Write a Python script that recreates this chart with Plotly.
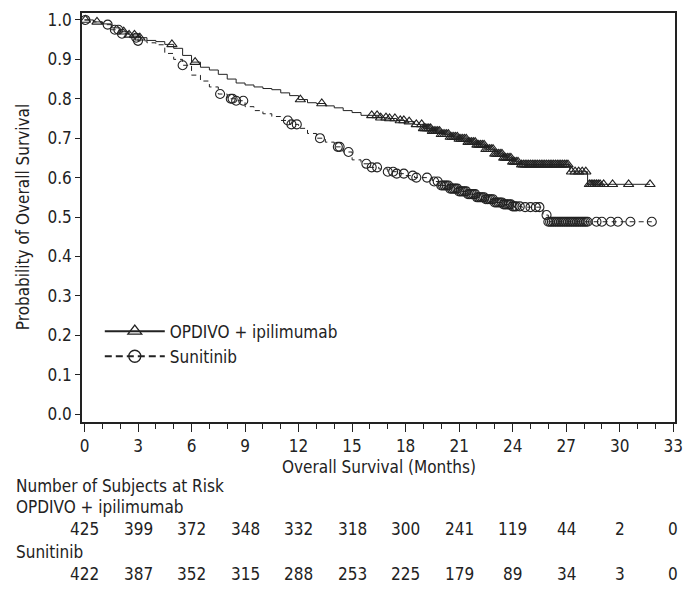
import numpy as np
import plotly.graph_objects as go

# ---------------- data ----------------
opdivo_t = [0, 0.5, 1.0, 1.5, 2.0, 2.5, 3.0, 3.5, 4.0, 4.5, 5.0, 5.5, 6.0, 6.5, 7.0, 7.5,
            8.0, 8.5, 9.0, 9.5, 10.0, 10.5, 11.0, 11.5, 12.0, 12.5, 13.0, 13.5, 14.0, 14.5,
            15.0, 15.5, 16.5, 17.0, 17.5, 18.0, 18.5, 19.0, 19.5, 20.0, 20.5, 21.0, 21.5,
            22.0, 22.5, 23.0, 23.5, 24.0, 24.5, 27.2, 28.2, 31.7]
opdivo_s = [1.0, 0.995, 0.99, 0.98, 0.97, 0.962, 0.955, 0.948, 0.945, 0.938, 0.928, 0.91,
            0.893, 0.88, 0.873, 0.862, 0.85, 0.84, 0.835, 0.83, 0.826, 0.823, 0.815, 0.808,
            0.798, 0.79, 0.788, 0.782, 0.777, 0.77, 0.765, 0.758, 0.752, 0.75, 0.745, 0.742,
            0.735, 0.725, 0.718, 0.71, 0.703, 0.698, 0.69, 0.683, 0.672, 0.66, 0.65, 0.64,
            0.633, 0.615, 0.583, 0.583]
opdivo_cens = [0.05, 0.7, 2.2, 2.5, 2.8, 3.1, 4.9, 6.2, 12.1, 13.3, 16.1, 16.4, 16.6, 16.9,
               17.1, 17.4, 17.7, 17.9, 18.2, 18.6, 18.9, 19.0, 19.1, 19.2, 19.3, 19.4, 19.5,
               19.6, 19.7, 19.8, 19.9, 20.0, 20.1, 20.2, 20.3, 20.4, 20.5, 20.6, 20.7, 20.8,
               20.9, 21.0, 21.1, 21.2, 21.3, 21.4, 21.5, 21.6, 21.7, 21.8, 21.9, 22.0, 22.1,
               22.2, 22.3, 22.4, 22.5, 22.6, 22.7, 22.8, 22.9, 23.0, 23.1, 23.2, 23.3, 23.4,
               23.5, 23.6, 23.7, 23.8, 23.9, 24.0, 24.1, 24.2, 24.3, 24.5, 24.6, 24.7, 24.8,
               24.9, 25.0, 25.1, 25.2, 25.3, 25.4, 25.5, 25.6, 25.7, 25.8, 25.9, 26.0, 26.1,
               26.2, 26.3, 26.4, 26.5, 26.6, 26.7, 26.8, 26.9, 27.0, 27.1, 27.3, 27.5, 27.7,
               27.9, 28.1, 28.3, 28.4, 28.5, 28.6, 28.7, 28.8, 28.9, 29.1, 29.6, 30.5, 31.7]

sunit_t = [0, 0.5, 1.0, 1.5, 2.0, 2.5, 3.0, 3.5, 4.0, 4.5, 5.0, 5.5, 6.0, 6.5, 7.0, 7.5,
           8.0, 8.5, 9.0, 9.5, 10.0, 10.5, 11.0, 11.5, 12.0, 12.5, 13.0, 13.5, 14.0, 14.5,
           15.0, 15.5, 16.0, 16.5, 17.0, 17.5, 18.0, 18.5, 19.5, 20.0, 20.5, 21.0, 21.5,
           22.0, 22.5, 23.0, 23.5, 24.0, 24.5, 25.7, 26.0, 31.8]
sunit_s = [1.0, 0.995, 0.988, 0.975, 0.965, 0.955, 0.947, 0.942, 0.937, 0.915, 0.9, 0.885,
           0.86, 0.845, 0.83, 0.812, 0.8, 0.795, 0.78, 0.77, 0.762, 0.755, 0.745, 0.735,
           0.725, 0.712, 0.7, 0.69, 0.678, 0.665, 0.645, 0.635, 0.626, 0.622, 0.615, 0.61,
           0.605, 0.6, 0.59, 0.58, 0.572, 0.565, 0.558, 0.55, 0.545, 0.537, 0.532, 0.527,
           0.525, 0.505, 0.488, 0.488]
sunit_cens = [0.05, 1.3, 1.7, 1.9, 2.1, 2.9, 3.0, 5.5, 7.6, 8.2, 8.3, 8.5, 8.9, 11.4, 11.6,
              11.9, 13.2, 14.2, 14.3, 14.8, 15.8, 16.1, 16.4, 17.0, 17.3, 17.5, 17.9, 18.4,
              18.6, 19.2, 19.6, 19.8, 20.0, 20.1, 20.2, 20.3, 20.4, 20.5, 20.6, 20.7, 20.8,
              20.9, 21.0, 21.1, 21.2, 21.3, 21.4, 21.5, 21.6, 21.7, 21.8, 21.9, 22.0, 22.1,
              22.2, 22.3, 22.4, 22.5, 22.6, 22.7, 22.8, 22.9, 23.0, 23.1, 23.2, 23.3, 23.4,
              23.5, 23.6, 23.7, 23.8, 23.9, 24.0, 24.1, 24.2, 24.4, 24.7, 25.0, 25.3, 25.5,
              25.9, 26.0, 26.1, 26.2, 26.3, 26.4, 26.5, 26.6, 26.7, 26.8, 26.9, 27.0, 27.1,
              27.2, 27.3, 27.4, 27.5, 27.6, 27.7, 27.8, 27.9, 28.0, 28.1, 28.2, 28.7, 29.0,
              29.5, 29.9, 30.6, 31.8]

risk_times = [0, 3, 6, 9, 12, 15, 18, 21, 24, 27, 30, 33]
risk_opdivo = [425, 399, 372, 348, 332, 318, 300, 241, 119, 44, 2, 0]
risk_sunit = [422, 387, 352, 315, 288, 253, 225, 179, 89, 34, 3, 0]

x_ticks = list(range(0, 34, 3))
y_ticks = [round(0.1 * i, 1) for i in range(11)]

# ---------------- figure ----------------
FONT = "Liberation Sans Narrow, DejaVu Sans Condensed, Arial Narrow, sans-serif"
INK = "#222222"


def step_lookup(ts, ss, cens):
    ts = np.asarray(ts)
    ss = np.asarray(ss)
    idx = np.searchsorted(ts, np.asarray(cens), side="right") - 1
    return ss[idx]


fig = go.Figure()

fig.add_trace(go.Scatter(x=opdivo_t, y=opdivo_s, mode="lines", line_shape="hv",
                         line=dict(color=INK, width=1), showlegend=False, hoverinfo="skip"))
fig.add_trace(go.Scatter(x=opdivo_cens, y=step_lookup(opdivo_t, opdivo_s, opdivo_cens),
                         mode="markers", showlegend=False,
                         marker=dict(symbol="triangle-up-open", size=9,
                                     line=dict(color=INK, width=1.1), color=INK)))
fig.add_trace(go.Scatter(x=sunit_t, y=sunit_s, mode="lines", line_shape="hv",
                         line=dict(color=INK, width=1, dash="5px,4px"), showlegend=False,
                         hoverinfo="skip"))
fig.add_trace(go.Scatter(x=sunit_cens, y=step_lookup(sunit_t, sunit_s, sunit_cens),
                         mode="markers", showlegend=False,
                         marker=dict(symbol="circle-open", size=9,
                                     line=dict(color=INK, width=1.1), color=INK)))

# legend entries
fig.add_trace(go.Scatter(x=[None], y=[None], mode="lines+markers", name="OPDIVO + ipilimumab",
                         line=dict(color=INK, width=2),
                         marker=dict(symbol="triangle-up-open", size=12,
                                     line=dict(color=INK, width=1.3), color=INK)))
fig.add_trace(go.Scatter(x=[None], y=[None], mode="lines+markers", name="Sunitinib",
                         line=dict(color=INK, width=2, dash="7px,4px"),
                         marker=dict(symbol="circle-open", size=12,
                                     line=dict(color=INK, width=1.3), color=INK)))

annotations = []
PLOT_TOP, PLOT_BOT = 10, 422
H = PLOT_BOT - PLOT_TOP


def py(pix):
    return (PLOT_BOT - pix) / H


# y-axis title
annotations.append(dict(text="Probability of Overall Survival", xref="paper", yref="paper",
                        x=-0.10, y=0.5, xanchor="center", yanchor="middle", textangle=-90,
                        showarrow=False, font=dict(size=17)))
annotations.append(dict(text="Overall Survival (Months)", xref="paper", yref="paper",
                        x=0.5, y=py(467), xanchor="center", yanchor="middle",
                        showarrow=False, font=dict(size=17)))
annotations.append(dict(text="Number of Subjects at Risk", xref="paper", yref="paper",
                        x=-0.115, y=py(486), xanchor="left", yanchor="middle",
                        showarrow=False, font=dict(size=17)))
annotations.append(dict(text="OPDIVO + ipilimumab", xref="paper", yref="paper",
                        x=-0.115, y=py(508), xanchor="left", yanchor="middle",
                        showarrow=False, font=dict(size=17)))
annotations.append(dict(text="Sunitinib", xref="paper", yref="paper",
                        x=-0.115, y=py(553), xanchor="left", yanchor="middle",
                        showarrow=False, font=dict(size=17)))
for t, n in zip(risk_times, risk_opdivo):
    annotations.append(dict(text=str(n), xref="x", yref="paper", x=t, y=py(530),
                            xanchor="center", yanchor="middle", showarrow=False,
                            font=dict(size=17)))
for t, n in zip(risk_times, risk_sunit):
    annotations.append(dict(text=str(n), xref="x", yref="paper", x=t, y=py(575),
                            xanchor="center", yanchor="middle", showarrow=False,
                            font=dict(size=17)))

fig.update_layout(
    width=694, height=591,
    margin=dict(l=82, r=19, t=PLOT_TOP, b=591 - PLOT_BOT, pad=0),
    paper_bgcolor="white", plot_bgcolor="white",
    font=dict(family=FONT, size=17, color=INK),
    annotations=annotations,
    legend=dict(x=0.03, y=0.265, xanchor="left", yanchor="top", bgcolor="rgba(0,0,0,0)",
                font=dict(size=17), itemwidth=60, tracegroupgap=0),
    xaxis=dict(range=[-0.14, 33.1], tickvals=x_ticks, ticks="outside", ticklen=8,
               tickwidth=1.3, tickcolor=INK, showline=True, linecolor=INK, linewidth=1.5,
               mirror=True, showgrid=False, zeroline=False,
               minor=dict(dtick=1, tick0=0, ticks="outside", ticklen=5, tickwidth=1.3,
                          tickcolor=INK, showgrid=False)),
    yaxis=dict(range=[-0.02, 1.0176], tickvals=y_ticks, tickformat=".1f", ticks="outside",
               ticklen=5, tickwidth=1.3, tickcolor=INK, showline=True, linecolor=INK,
               linewidth=1.5, mirror=True, showgrid=False, zeroline=False),
)

fig.write_html("out.html")
